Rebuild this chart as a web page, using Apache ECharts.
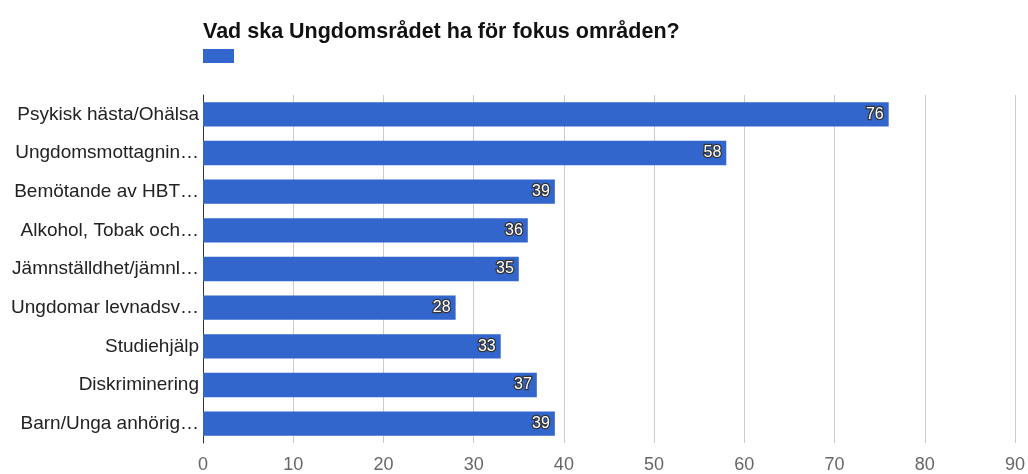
<!DOCTYPE html>
<html><head><meta charset="utf-8">
<script src="https://cdn.jsdelivr.net/npm/echarts@6/dist/echarts.min.js"></script>
<style>html,body{margin:0;padding:0;background:#fff}#c{width:1028px;height:474px}</style>
</head><body><div id="c"></div>
<script>
const categories = ["Psykisk hästa/Ohälsa","Ungdomsmottagnin…","Bemötande av HBT…","Alkohol, Tobak och…","Jämnställdhet/jämnl…","Ungdomar levnadsv…","Studiehjälp","Diskriminering","Barn/Unga anhörig…"];
const values = [76,58,39,36,35,28,33,37,39];
const xTicks = [0,10,20,30,40,50,60,70,80,90];
const seriesName = " ";
const chart = echarts.init(document.getElementById('c'));
chart.setOption({
  animation:false,
  title:{text:"Vad ska Ungdomsrådet ha för fokus områden?",left:198,top:16,textStyle:{fontFamily:"Liberation Sans, Arial",fontSize:21.5,fontWeight:"bold",color:"#111"}},
  legend:{left:198,top:44,icon:"rect",itemWidth:31,itemHeight:14,data:[seriesName],textStyle:{fontSize:1},selectedMode:false},
  grid:{left:203,right:12,top:95,bottom:29,containLabel:false},
  xAxis:{type:"value",min:0,max:90,interval:10,
    axisLine:{show:false},axisTick:{show:false},
    splitLine:{lineStyle:{color:"#cccccc"}},
    axisLabel:{fontFamily:"Liberation Sans, Arial",fontSize:18,color:"#666",margin:13,formatter:v=>xTicks.includes(v)?String(v):""}},
  yAxis:{type:"category",data:categories,inverse:true,
    axisLine:{lineStyle:{color:"#333"}},axisTick:{show:false},
    axisLabel:{fontFamily:"Liberation Sans, Arial",fontSize:19,color:"#222",margin:4}},
  series:[{name:seriesName,type:"bar",data:values,barCategoryGap:"37%",
    itemStyle:{color:"#3366cc"},
    label:{show:true,position:"insideRight",distance:5,fontFamily:"Liberation Sans, Arial",fontSize:16,color:"#fff",textBorderColor:"#333",textBorderWidth:2.5}}]
});
</script></body></html>
